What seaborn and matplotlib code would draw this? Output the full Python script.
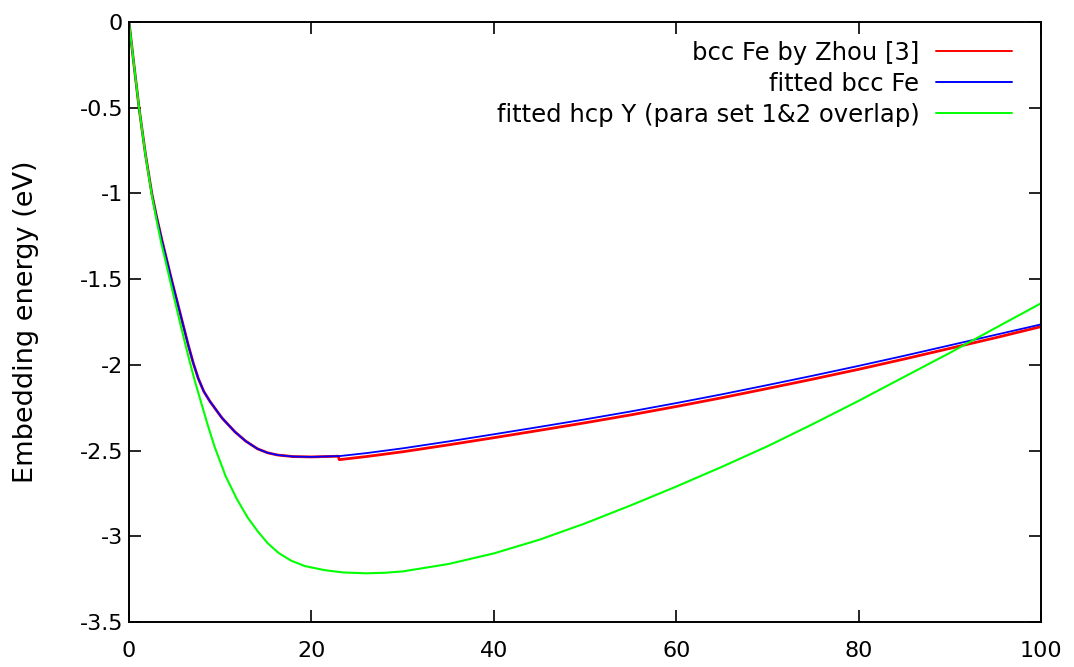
import pandas as pd
import seaborn as sns
import matplotlib.pyplot as plt
import numpy as np

# fitted bcc Fe (blue)
fe_x = [0, 0.5, 1.1, 1.8, 2.5, 3.0, 3.6, 4.7, 5.9, 6.5, 7.05, 7.6, 8.2, 8.9, 10.2,
        11.6, 12.8, 14.1, 15.2, 16.3, 18, 20, 23.1, 26, 30, 35, 40, 45, 50, 55, 60,
        65, 70, 75, 80, 85, 90, 95, 100]
fe_y = [0, -0.23, -0.5, -0.77, -1.0, -1.13, -1.27, -1.51, -1.76, -1.885, -1.99, -2.08,
        -2.155, -2.215, -2.31, -2.39, -2.445, -2.49, -2.513, -2.526, -2.535, -2.537,
        -2.532, -2.515, -2.487, -2.447, -2.405, -2.362, -2.318, -2.272, -2.223,
        -2.172, -2.118, -2.063, -2.006, -1.947, -1.886, -1.825, -1.764]

# bcc Fe by Zhou (red), small jump near 23
zhou_x = [0, 0.5, 1.1, 1.8, 2.5, 3.0, 3.6, 4.7, 5.9, 6.5, 7.05, 7.6, 8.2, 8.9, 10.2,
          11.6, 12.8, 14.1, 15.2, 16.3, 18, 20, 22.95, 23.05, 26, 30, 35, 40, 45, 50,
          55, 60, 65, 70, 75, 80, 85, 90, 95, 100]
zhou_y = [0, -0.23, -0.5, -0.77, -1.0, -1.13, -1.27, -1.51, -1.76, -1.885, -1.99, -2.08,
          -2.155, -2.215, -2.31, -2.39, -2.445, -2.49, -2.513, -2.526, -2.535, -2.537,
          -2.533, -2.553, -2.535, -2.507, -2.467, -2.425, -2.382, -2.338, -2.292,
          -2.243, -2.192, -2.138, -2.083, -2.026, -1.966, -1.904, -1.842, -1.777]

# fitted hcp Y (green)
y_x = [0, 0.5, 1.1, 1.8, 2.5, 3.0, 3.5, 4.6, 5.6, 6.2, 6.7, 7.2, 7.8, 8.6, 9.4, 10.6,
       11.8, 13, 14.1, 15.2, 16.4, 17.8, 19.3, 21.5, 23.5, 26, 28, 30, 35, 40, 45,
       50, 55, 60, 65, 70, 75, 80, 85, 90, 95, 100]
y_y = [0, -0.23, -0.5, -0.775, -1.01, -1.15, -1.28, -1.53, -1.755, -1.885, -1.99, -2.09,
       -2.2, -2.345, -2.48, -2.65, -2.78, -2.89, -2.97, -3.04, -3.097, -3.143, -3.174,
       -3.198, -3.211, -3.216, -3.213, -3.205, -3.162, -3.10, -3.02, -2.925, -2.82,
       -2.71, -2.595, -2.475, -2.345, -2.21, -2.07, -1.93, -1.785, -1.641]

sns.set_theme(style="ticks")
plt.rcParams['font.family'] = ['DejaVu Sans']

fig = plt.figure(figsize=(10.74, 6.67), dpi=100)
ax = fig.add_axes([129/1074, 1-622/667, (1041-129)/1074, 600/667])

sns.lineplot(x=zhou_x, y=zhou_y, color='#ff0000', lw=2.0, estimator=None, sort=False,
             label='bcc Fe by Zhou [3]', ax=ax)
sns.lineplot(x=fe_x, y=fe_y, color='#0000ff', lw=1.3, estimator=None, sort=False,
             label='fitted bcc Fe', ax=ax)
sns.lineplot(x=y_x, y=y_y, color='#00ff00', lw=1.5, estimator=None, sort=False,
             label='fitted hcp Y (para set 1&2 overlap)', ax=ax)

ax.set_xlim(0, 100)
ax.set_ylim(-3.5, 0)
ax.set_xticks([0, 20, 40, 60, 80, 100])
ax.set_yticks(np.arange(-3.5, 0.01, 0.5))
ax.set_yticklabels(['-3.5', '-3', '-2.5', '-2', '-1.5', '-1', '-0.5', '0'])

for s in ax.spines.values():
    s.set_visible(True)
    s.set_linewidth(1.4)
    s.set_color('black')
ax.tick_params(direction='in', length=8.6, width=1.2, top=True, right=True,
               color='black', labelcolor='black', labelsize=16)
ax.tick_params(axis='y', pad=4.3)
ax.tick_params(axis='x', pad=14)

ax.set_xlabel('')
ax.set_ylabel('Embedding energy (eV)', fontsize=19.5, color='black')
ax.yaxis.set_label_coords(-0.099, 0.5)

leg = ax.legend(loc='upper right', bbox_to_anchor=(1.0, 1.017), frameon=False,
                markerfirst=False, fontsize=17.5, handlelength=3.1, handletextpad=0.7,
                labelspacing=0.28, borderpad=0.2, borderaxespad=1.0)
for line in leg.get_lines():
    line.set_linewidth(1.4)
for t in leg.get_texts():
    t.set_color('black')

fig.savefig('out.png', dpi=100, facecolor='white')
